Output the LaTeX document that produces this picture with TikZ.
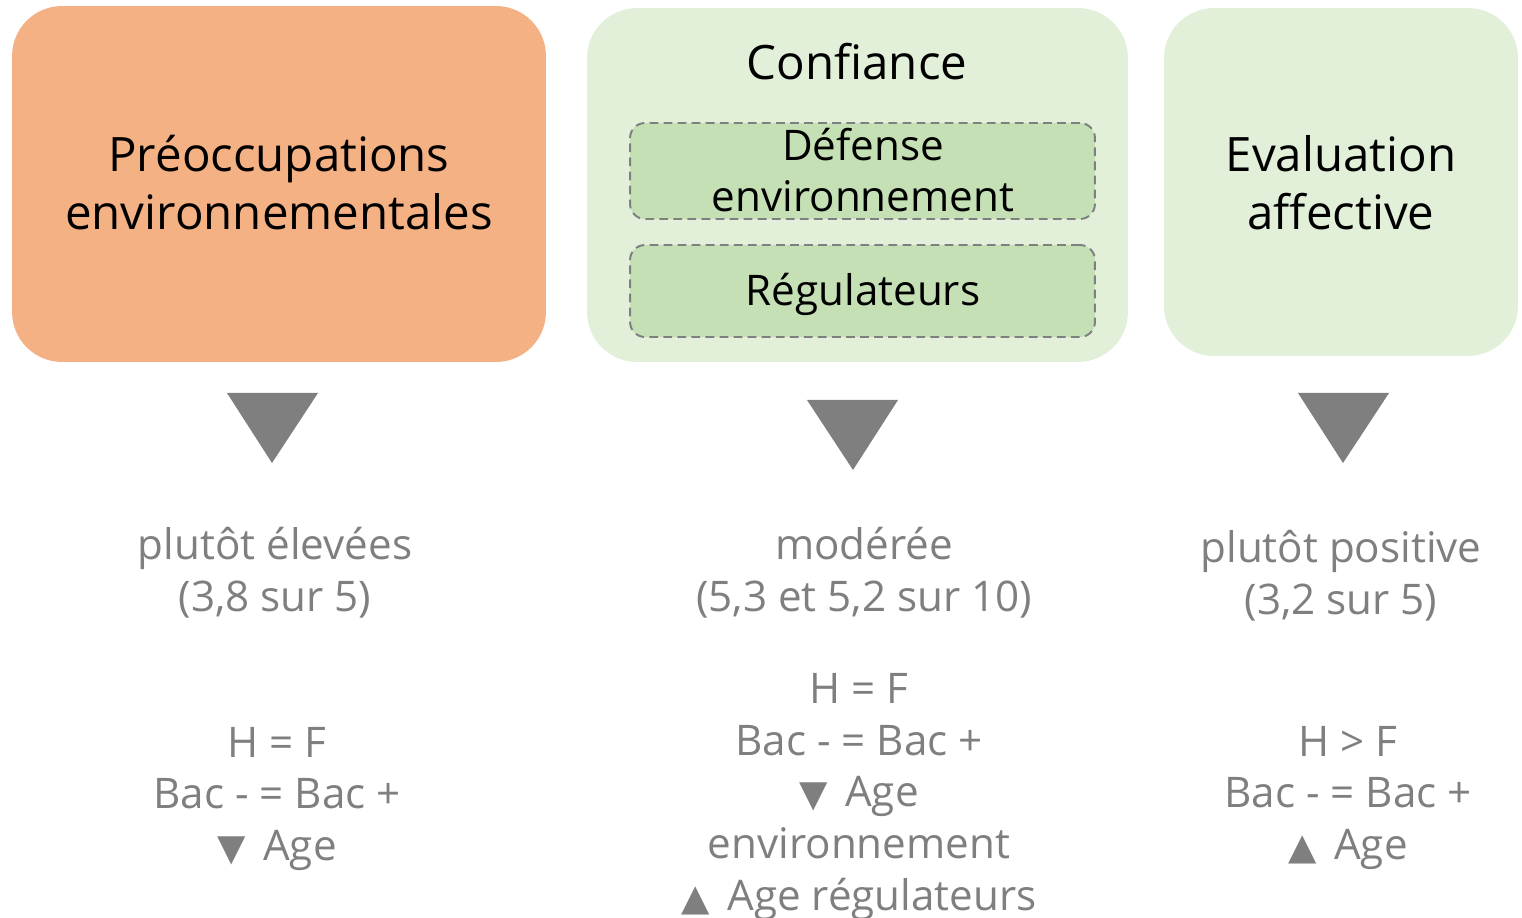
\documentclass[tikz,border=0pt]{standalone}
\usepackage{fontspec}
\setmainfont{Open Sans}
\newfontfamily\symfont{DejaVu Sans}
\usetikzlibrary{positioning}
\definecolor{orangebox}{HTML}{F4B183}
\definecolor{greenbox}{HTML}{E2F0D9}
\definecolor{greeninner}{HTML}{C5E0B4}
\definecolor{greytext}{HTML}{7F7F7F}
\newcommand{\dn}{{\symfont\fontsize{21}{24}\selectfont ▼}\hspace{10pt}}
\newcommand{\up}{{\symfont\fontsize{21}{24}\selectfont ▲}\hspace{10pt}}

\begin{document}
\begin{tikzpicture}[x=0.02cm, y=-0.02cm,
                    box/.style = {rounded corners=1cm, inner sep=0pt},
                    inner/.style = {draw=greytext, dash pattern=on 5pt off 3pt, line width=1.1pt,
                                    fill=greeninner, rounded corners=0.3cm, minimum width=9.3cm, inner sep=0pt},
                    title/.style = {font=\fontsize{27}{33}\selectfont, align=center},
                    sub/.style = {font=\fontsize{24}{29}\selectfont, align=center},
                    result/.style = {font=\fontsize{24}{29.5}\selectfont, align=center, text=greytext},
                    arrowtri/.style = {fill=greytext}]
\useasboundingbox (0,0) rectangle (1522,918);
% boxes
\node[box, fill=orangebox, minimum width=10.68cm, minimum height=7.12cm] (preo) at (279,184) {};
\node[box, fill=greenbox, minimum width=10.82cm, minimum height=7.08cm] (conf) at (857.5,185) {};
\node[box, fill=greenbox, minimum width=7.08cm, minimum height=6.96cm] (eval) at (1341,182) {};
\node[inner, minimum height=1.92cm] (def) at (862.5,171) {};
\node[inner, minimum height=1.84cm] (reg) at (862.5,291) {};
% titles
\node[title] (preot) at (279,183) {Préoccupations\\environnementales};
\node[title] (conft) at (857,62) {Confiance};
\node[sub] (deft) at (863,170) {Défense\\environnement};
\node[sub] (regt) at (863,294) {Régulateurs};
\node[title] (evalt) at (1341,183) {Evaluation\\affective};
% triangles
\fill[arrowtri] (227,393) -- (318,393) -- (272,463) -- cycle;
\fill[arrowtri] (807,400) -- (898,400) -- (853,470) -- cycle;
\fill[arrowtri] (1298,393) -- (1389,393) -- (1343,463) -- cycle;
% results
\node[result] (preor) at (275,573) {plutôt élevées\\(3,8 sur 5)};
\node[result] (confr) at (864,573) {modérée\\(5,3 et 5,2 sur 10)};
\node[result] (evalr) at (1341,576) {plutôt positive\\(3,2 sur 5)};
\node[result] (preog) at (277,799) {H = F\\Bac - = Bac +\\\dn Age};
\node[result] (confg) at (859,797) {H = F\\Bac - = Bac +\\\dn Age\\environnement\\\up Age régulateurs};
\node[result] (evalg) at (1348,798) {H > F\\Bac - = Bac +\\\up Age};
\end{tikzpicture}
\end{document}
